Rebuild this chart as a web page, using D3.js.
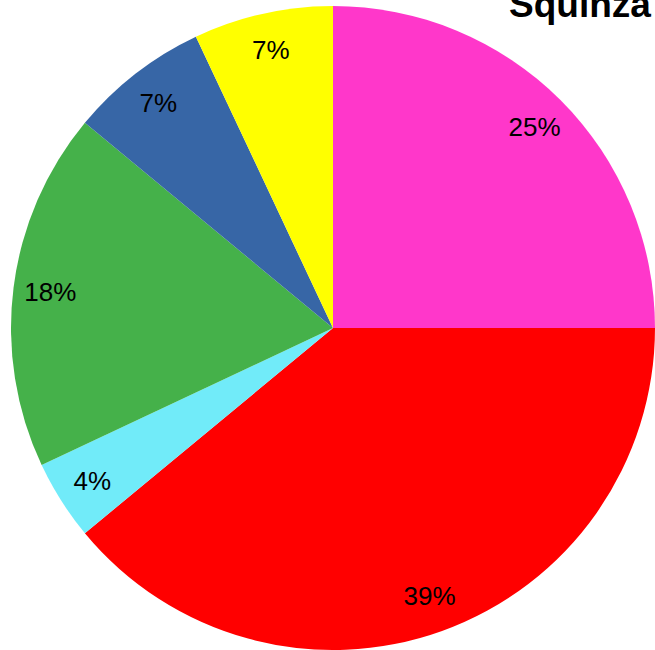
<!DOCTYPE html>
<html>
<head>
<meta charset="utf-8">
<script src="https://cdn.jsdelivr.net/npm/d3@7"></script>
<style>
  html, body { margin: 0; padding: 0; background: #fff; overflow: hidden; }
  svg { display: block; }
</style>
</head>
<body>
<svg id="chart" width="655" height="650"></svg>
<script>
const titleText = "Squinza";
const categories = ["A", "B", "C", "D", "E", "F"];
const values = [25, 39, 4, 18, 7, 7];
const colors = ["#FF37CA", "#FF0000", "#71EBF9", "#45B14A", "#3766A6", "#FFFF00"];

const width = 655, height = 650;
const cx = 333, cy = 328, radius = 322, labelRadius = 285;

const svg = d3.select("#chart");
const total = d3.sum(values);

const pie = d3.pie().sort(null).value(d => d.value);
const data = categories.map((c, i) => ({ cat: c, value: values[i], color: colors[i] }));
const arcs = pie(data);

const arc = d3.arc().innerRadius(0).outerRadius(radius);
const labelArc = d3.arc().innerRadius(labelRadius).outerRadius(labelRadius);

const g = svg.append("g").attr("transform", `translate(${cx},${cy})`);

g.selectAll("path")
  .data(arcs)
  .join("path")
  .attr("d", arc)
  .attr("fill", d => d.data.color);

g.selectAll("text")
  .data(arcs)
  .join("text")
  .attr("transform", d => {
    const [x, y] = labelArc.centroid(d);
    return `translate(${x},${y})`;
  })
  .attr("text-anchor", "middle")
  .attr("dy", "0.35em")
  .attr("font-family", "Liberation Sans, Arial, sans-serif")
  .attr("font-size", 26)
  .attr("fill", "#000")
  .text(d => Math.round(d.data.value / total * 100) + "%");

svg.append("text")
  .attr("x", 509)
  .attr("y", 17)
  .attr("font-family", "Liberation Sans, Arial, sans-serif")
  .attr("font-weight", "bold")
  .attr("font-size", 37)
  .attr("fill", "#000")
  .text(titleText);
</script>
</body>
</html>
